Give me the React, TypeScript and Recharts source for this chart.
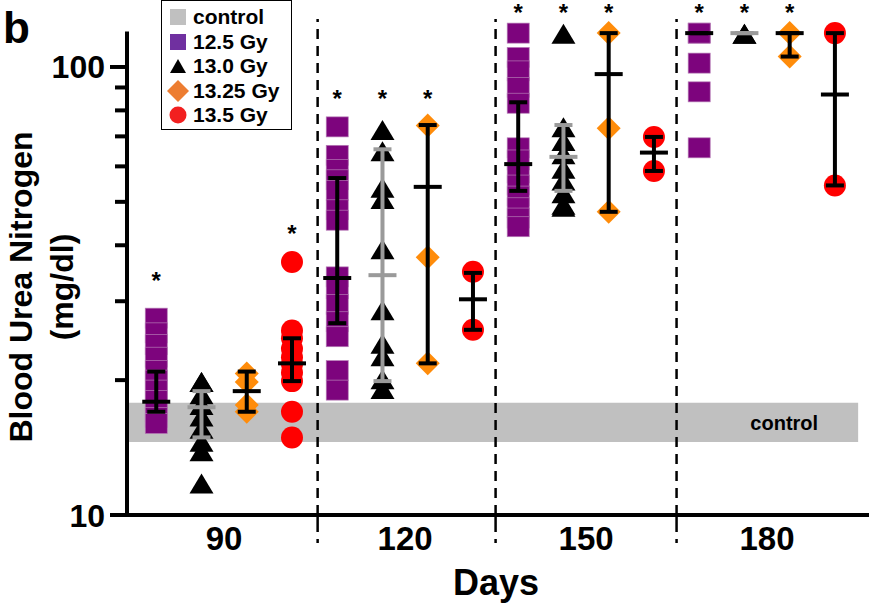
import React from 'react';
import {
    ScatterChart,
    Scatter,
    XAxis,
    YAxis,
    ReferenceArea,
    ReferenceLine,
} from 'recharts';

// days on the x axis, and the four radiation doses inside each day
const days = [90, 120, 150, 180];
const doses = ['12.5 Gy', '13.0 Gy', '13.25 Gy', '13.5 Gy'];

// individual BUN readings (mg/dl), one list per day
const bun125 = [
    [27.5, 25.5, 24, 22.5, 21, 20, 19, 18, 17, 16.5, 16],
    [73.5, 63.5, 59, 56, 53, 48, 45.5, 34, 32, 29.5, 27, 25, 21, 19],
    [119, 105, 98, 90, 83, 66, 62, 58, 54.5, 51.5, 48.5, 46, 44],
    [119, 119, 102, 88, 66],
];
const bun130 = [
    [19.7, 19.7, 18.5, 17.5, 16.5, 15.5, 14.5, 13.8, 11.7],
    [72, 64.5, 53.5, 50.5, 39, 28.5, 24, 22.5, 20, 19],
    [118, 73, 68, 63.5, 59, 55.5, 52, 49, 48.5],
    [118, 118],
];
const bun1325 = [
    [20.7, 19.8, 17.6, 17.0],
    [74, 37.6, 21.8],
    [119, 73, 47.5],
    [119, 105.5],
];
const bun135 = [
    [36.7, 25.8, 24.8, 23.5, 22.5, 21.7, 20.8, 19.9, 17.0, 14.9],
    [34.9, 25.9],
    [69.8, 58.6],
    [119, 54.4],
];

// mean and error range per day
const mean125 = [17.9, 33.8, 60.7, 119];
const low125 = [17.0, 26.8, 52.9, 119];
const high125 = [20.9, 56.5, 83.4, 119];
const mean130 = [17.4, 34.3, 63, 119];
const low130 = [14.9, 19.9, 52.9, 119];
const high130 = [18.9, 65.5, 74.2, 119];
const mean1325 = [18.9, 54, 96.4, 119];
const low1325 = [17.0, 21.8, 47.5, 105.5];
const high1325 = [20.9, 74.2, 119, 119];
const mean135 = [21.8, 30.3, 64.4, 86.8];
const low135 = [19.9, 25.9, 58.6, 54.4];
const high135 = [24.8, 34.7, 69.8, 119];

// control range band
const controlRange = [14.55, 17.8];

// significance stars: day, dose index, level
const starDays = [90, 90, 120, 120, 120, 150, 150, 150, 180, 180, 180];
const starDoses = [0, 3, 0, 1, 2, 0, 1, 2, 0, 1, 2];
const starLevels = [34.3, 43.8, 87.5, 87.5, 87.5, 136, 136, 136, 136, 136, 136];

const yTicks = [10, 20, 30, 40, 50, 60, 70, 80, 90, 100];
const separators = [105.5, 135, 165];

const FONT = "'Liberation Sans', Arial, sans-serif";
const X_MIN = 73.9;
const X_MAX = 196.9;
const SUB_STEP = 7.5;
const BAND_END = 195.1;

const xPos = (dayIdx: number, doseIdx: number) =>
    days[dayIdx] + (doseIdx - 1.5) * SUB_STEP;

const toPoints = (lists: number[][], doseIdx: number) =>
    lists.flatMap((list, i) => list.map((v) => ({ x: xPos(i, doseIdx), y: v })));

const stars = starDays.map((d, i) => ({
    x: xPos(days.indexOf(d), starDoses[i]),
    y: starLevels[i],
}));

const PURPLE = '#7D047D';
const ORANGE = '#FF8C0A';
const RED = '#FF0000';
const GREY_BAR = '#9A9A9A';

const SquareShape = (p: any) => (
    <rect x={p.cx - 11} y={p.cy - 10} width={22} height={20} fill={PURPLE} stroke="#b57ab5" strokeWidth={0.7} />
);
const TriangleShape = (p: any) => (
    <polygon
        points={`${p.cx},${p.cy - 11} ${p.cx - 12},${p.cy + 9} ${p.cx + 12},${p.cy + 9}`}
        fill="#000"
    />
);
const DiamondShape = (p: any) => (
    <polygon
        points={`${p.cx},${p.cy - 12} ${p.cx + 12},${p.cy} ${p.cx},${p.cy + 12} ${p.cx - 12},${p.cy}`}
        fill={ORANGE}
    />
);
const CircleShape = (p: any) => <circle cx={p.cx} cy={p.cy} r={11} fill={RED} />;

const hLine = (color: string, half: number) => (p: any) =>
    <line x1={p.cx - half} x2={p.cx + half} y1={p.cy} y2={p.cy} stroke={color} strokeWidth={4} />;

const StarShape = (p: any) => (
    <text x={p.cx} y={p.cy + 14} textAnchor="middle" fontSize={24} fontWeight={700} fontFamily={FONT}>
        *
    </text>
);

const YTick = ({ x, y, payload }: any) => {
    const v = payload.value;
    const major = v === 10 || v === 100;
    const len = major ? 17 : 12;
    return (
        <g>
            <line x1={x - len} x2={x} y1={y} y2={y} stroke="#000" strokeWidth={4} />
            {major && (
                <text x={x - len - 5} y={y} dy="0.36em" textAnchor="end" fontSize={32} fontWeight={700} fontFamily={FONT} fill="#000">
                    {v}
                </text>
            )}
        </g>
    );
};

const XTick = ({ x, y, payload }: any) => (
    <text x={x} y={y + 35} textAnchor="middle" fontSize={33} fontWeight={700} fontFamily={FONT} fill="#000">
        {payload.value}
    </text>
);

const legendItems = [
    { label: 'control', kind: 'square', color: '#C0C0C0' },
    { label: doses[0], kind: 'square', color: '#7030A0' },
    { label: doses[1], kind: 'triangle', color: '#000' },
    { label: doses[2], kind: 'diamond', color: '#ED7D31' },
    { label: doses[3], kind: 'circle', color: '#F22020' },
];

const LegendMarker = ({ kind, color }: { kind: string; color: string }) => (
    <svg width={24} height={24} style={{ display: 'block' }}>
        {kind === 'square' && <rect x={4} y={4} width={16} height={16} fill={color} />}
        {kind === 'triangle' && <polygon points="12,5 4,19 20,19" fill={color} />}
        {kind === 'diamond' && <polygon points="12,1 23,12 12,23 1,12" fill={color} />}
        {kind === 'circle' && <circle cx={12} cy={12} r={8.5} fill={color} />}
    </svg>
);

const series = [
    { points: toPoints(bun125, 0), shape: SquareShape },
    { points: toPoints(bun130, 1), shape: TriangleShape },
    { points: toPoints(bun1325, 2), shape: DiamondShape },
    { points: toPoints(bun135, 3), shape: CircleShape },
];

const summaryInputs = [
    { mean: mean125, low: low125, high: high125, color: '#000' },
    { mean: mean130, low: low130, high: high130, color: GREY_BAR },
    { mean: mean1325, low: low1325, high: high1325, color: '#000' },
    { mean: mean135, low: low135, high: high135, color: '#000' },
];

// one small two-point series per whisker (low cap -> high cap)
const whiskers = summaryInputs.flatMap((s, d) =>
    days.map((_, i) => ({
        key: `w-${d}-${i}`,
        color: s.color,
        data: [
            { x: xPos(i, d), y: s.low[i] },
            { x: xPos(i, d), y: s.high[i] },
        ],
    })),
);

const means = summaryInputs.map((s, d) => ({
    color: s.color,
    data: s.mean.map((m, i) => ({ x: xPos(i, d), y: m })),
}));

export default function App() {
    return (
        <div style={{ position: 'absolute', left: 0, top: 0, width: 869, height: 604, background: '#fff', fontFamily: FONT }}>
            <ScatterChart width={869} height={604} margin={{ top: 1.5, right: 0, bottom: 0, left: 0 }}>
                <XAxis
                    type="number"
                    dataKey="x"
                    domain={[X_MIN, X_MAX]}
                    ticks={days}
                    interval={0}
                    height={89}
                    tickSize={0}
                    tickMargin={0}
                    tickLine={false}
                    axisLine={{ stroke: '#000', strokeWidth: 4 }}
                    tick={<XTick />}
                />
                <YAxis
                    type="number"
                    dataKey="y"
                    scale="log"
                    domain={[10, 140]}
                    ticks={yTicks}
                    interval={0}
                    width={127}
                    tickSize={0}
                    tickMargin={0}
                    tickLine={false}
                    axisLine={false}
                    tick={<YTick />}
                />
                <ReferenceArea
                    x1={X_MIN}
                    x2={BAND_END}
                    y1={controlRange[0]}
                    y2={controlRange[1]}
                    fill="#C0C0C0"
                    fillOpacity={1}
                    stroke="none"
                    ifOverflow="visible"
                    label={{ value: 'control', position: 'insideRight', offset: 40, fill: '#000', fontSize: 20, fontWeight: 700, fontFamily: FONT }}
                />
                {separators.map((s) => (
                    <ReferenceLine
                        key={`top-${s}`}
                        segment={[{ x: s, y: 10 }, { x: s, y: 128 }]}
                        stroke="#000"
                        strokeWidth={2.5}
                        strokeDasharray="10 7"
                        ifOverflow="visible"
                    />
                ))}
                {separators.map((s) => (
                    <ReferenceLine
                        key={`bottom-${s}`}
                        segment={[{ x: s, y: 10 }, { x: s, y: 8.66 }]}
                        stroke="#000"
                        strokeWidth={2.5}
                        strokeDasharray="17 7 4 40"
                        ifOverflow="visible"
                    />
                ))}
                <ReferenceLine
                    segment={[{ x: X_MIN, y: 9.95 }, { x: X_MIN, y: 120 }]}
                    stroke="#000"
                    strokeWidth={4}
                    ifOverflow="visible"
                />
                {series.map((s, i) => (
                    <Scatter key={`pts-${i}`} data={s.points} shape={s.shape} isAnimationActive={false} />
                ))}
                {whiskers.map((w) => (
                    <Scatter
                        key={w.key}
                        data={w.data}
                        line={{ stroke: w.color, strokeWidth: 4 }}
                        shape={hLine(w.color, 9)}
                        isAnimationActive={false}
                    />
                ))}
                {means.map((m, i) => (
                    <Scatter key={`mean-${i}`} data={m.data} shape={hLine(m.color, 14)} isAnimationActive={false} />
                ))}
                <Scatter data={stars} shape={StarShape} isAnimationActive={false} />
            </ScatterChart>

            <div
                style={{
                    position: 'absolute',
                    left: 161,
                    top: 0,
                    width: 131,
                    height: 130,
                    boxSizing: 'border-box',
                    border: '1.5px solid #000',
                    background: '#fff',
                    paddingTop: 4,
                }}
            >
                {legendItems.map((it) => (
                    <div key={it.label} style={{ display: 'flex', alignItems: 'center', height: 24.5, paddingLeft: 4 }}>
                        <LegendMarker kind={it.kind} color={it.color} />
                        <span style={{ marginLeft: 3, fontSize: 21, fontWeight: 700, lineHeight: '24px' }}>{it.label}</span>
                    </div>
                ))}
            </div>

            <div style={{ position: 'absolute', left: 3, top: 6, fontSize: 44, fontWeight: 700, lineHeight: '44px' }}>b</div>

            <svg width={100} height={604} style={{ position: 'absolute', left: 0, top: 0 }}>
                <text
                    transform="translate(32, 287) rotate(-90)"
                    textAnchor="middle"
                    fontSize={32}
                    fontWeight={700}
                    fontFamily={FONT}
                    fill="#000"
                >
                    Blood Urea Nitrogen
                </text>
                <text
                    transform="translate(73, 287) rotate(-90)"
                    textAnchor="middle"
                    fontSize={32}
                    fontWeight={700}
                    fontFamily={FONT}
                    fill="#000"
                >
                    (mg/dl)
                </text>
            </svg>

            <div
                style={{
                    position: 'absolute',
                    left: 496 - 100,
                    top: 565,
                    width: 200,
                    textAlign: 'center',
                    fontSize: 36,
                    fontWeight: 700,
                    lineHeight: '36px',
                }}
            >
                Days
            </div>
        </div>
    );
}
